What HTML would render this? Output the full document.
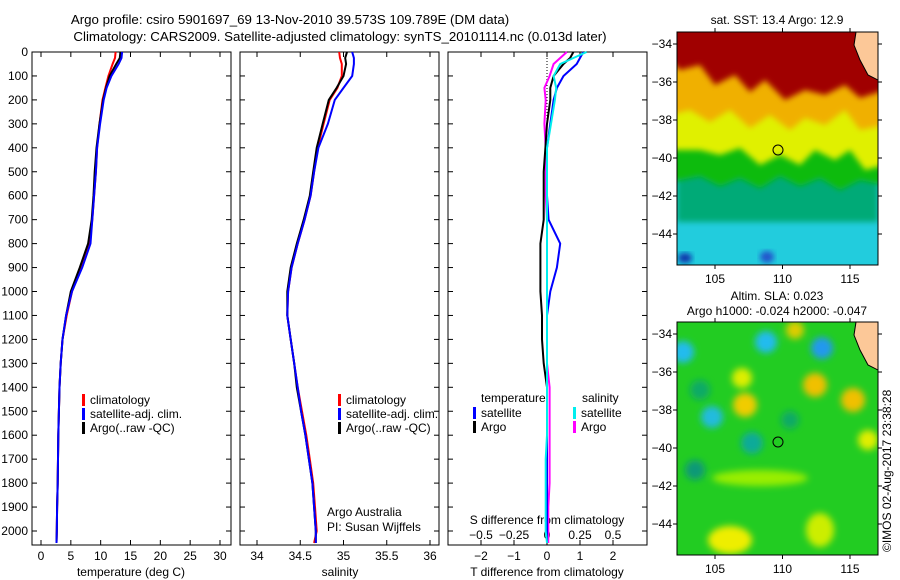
<!DOCTYPE html>
<html><head><meta charset="utf-8"><style>
body{margin:0;background:#fff}
svg{display:block;font-family:"Liberation Sans",sans-serif;font-size:12px}
</style></head><body>
<svg id="fig" width="900" height="580" viewBox="0 0 900 580">
<defs>
<filter id="bl" x="-50%" y="-50%" width="200%" height="200%"><feGaussianBlur stdDeviation="3.5"/></filter>
<filter id="bl2" x="-20%" y="-20%" width="140%" height="140%"><feGaussianBlur stdDeviation="3"/></filter>
<clipPath id="c1"><rect x="677" y="32" width="201" height="233"/></clipPath>
<clipPath id="c2"><rect x="677" y="322" width="201" height="233"/></clipPath>
</defs>
<text x="290" y="24" text-anchor="middle" font-size="13.3">Argo profile: csiro 5901697_69 13-Nov-2010 39.573S 109.789E (DM data)</text>
<text x="340" y="41" text-anchor="middle" font-size="13.3">Climatology: CARS2009. Satellite-adjusted climatology: synTS_20101114.nc (0.013d later)</text>
<g id="panels"></g>
<g id="maps">
<text x="777" y="24" text-anchor="middle">sat. SST: 13.4 Argo: 12.9</text>
<g clip-path="url(#c1)">
<rect x="677" y="32" width="201" height="233" fill="#22ccdd"/>
<rect x="677" y="32" width="201" height="190" fill="#00aa77" filter="url(#bl2)"/>
<path d="M670 25H885V185L860 180L840 190L820 178L800 186L780 176L760 188L740 178L720 186L700 176L670 182Z" fill="#11bb11" filter="url(#bl2)"/>
<path d="M670 25H885V165L865 170L850 150L835 160L815 150L800 165L780 155L760 165L740 148L720 155L700 150L670 150Z" fill="#e0f000" filter="url(#bl2)"/>
<path d="M670 25H885V125L860 130L845 110L825 125L805 118L790 130L770 115L750 128L730 110L710 122L690 110L670 115Z" fill="#f0b000" filter="url(#bl2)"/>
<path d="M670 25H885V90L860 98L845 85L825 95L805 90L785 100L765 80L750 92L735 75L715 85L700 65L680 70L670 60Z" fill="#a00000" filter="url(#bl2)"/>
<ellipse cx="685" cy="258" rx="7" ry="5" fill="#1133aa" filter="url(#bl2)"/>
<ellipse cx="767" cy="257" rx="7" ry="6" fill="#2255cc" filter="url(#bl2)"/>
<path d="M856 32H878V80L868 75L860 60L854 45Z" fill="#fcc898" stroke="#000" stroke-width="1"/>
</g>
<rect x="677" y="32" width="201" height="233" fill="none" stroke="#000"/>
<circle cx="778" cy="150" r="5" fill="none" stroke="#000"/>
<text x="777" y="300" text-anchor="middle">Altim. SLA: 0.023</text>
<text x="777" y="315" text-anchor="middle">Argo h1000: -0.024 h2000: -0.047</text>
<g clip-path="url(#c2)">
<rect x="677" y="322" width="201" height="233" fill="#22cc22"/>
<g filter="url(#bl)">
<circle cx="766" cy="342" r="11" fill="#22bbee"/><circle cx="822" cy="348" r="11" fill="#2299ee"/><circle cx="683" cy="352" r="11" fill="#22bbee"/>
<circle cx="742" cy="378" r="10" fill="#ddee00"/><circle cx="815" cy="385" r="12" fill="#f0c000"/>
<circle cx="745" cy="405" r="12" fill="#f0cc00"/><circle cx="853" cy="400" r="12" fill="#f0c000"/>
<circle cx="712" cy="417" r="11" fill="#22bbdd"/><circle cx="752" cy="443" r="11" fill="#11aa99"/>
<circle cx="868" cy="440" r="10" fill="#e0ee00"/><circle cx="695" cy="470" r="10" fill="#119977"/>
<ellipse cx="760" cy="478" rx="48" ry="8" fill="#99ee00"/><ellipse cx="730" cy="540" rx="22" ry="14" fill="#eeee00"/>
<circle cx="795" cy="330" r="9" fill="#ddcc00"/><ellipse cx="820" cy="530" rx="14" ry="17" fill="#ccee00"/>
<circle cx="700" cy="390" r="10" fill="#11aa66"/><circle cx="790" cy="420" r="9" fill="#11aa66"/>
</g>
<path d="M856 322H878V370L868 365L860 350L854 335Z" fill="#fcc898" stroke="#000" stroke-width="1"/>
</g>
<rect x="677" y="322" width="201" height="233" fill="none" stroke="#000"/>
<circle cx="778" cy="442" r="5" fill="none" stroke="#000"/>
<text transform="translate(891,552) rotate(-90)">©IMOS 02-Aug-2017 23:38:28</text>
</g>
</svg>
<script>
const depths=[0,25,50,100,150,200,300,400,500,600,700,800,900,1000,1100,1200,1300,1400,1500,1600,1700,1800,1900,2000,2050];
const tempClim=[12.5,12.4,12.0,11.3,10.8,10.3,9.8,9.4,9.2,8.9,8.6,8.1,6.7,5.2,4.3,3.6,3.3,3.1,3.0,2.9,2.85,2.8,2.7,2.65,2.6];
const tempSat=[13.6,13.5,13.0,11.8,11.0,10.5,9.9,9.4,9.2,8.9,8.6,8.3,6.9,5.2,4.2,3.6,3.3,3.1,3.0,2.9,2.85,2.8,2.7,2.65,2.6];
const tempArgo=[13.3,13.2,12.6,11.5,10.9,10.4,9.8,9.3,9.0,8.8,8.5,7.9,6.5,5.0,4.2,3.6,3.3,3.1,3.0,2.9,2.85,2.8,2.7,2.65,2.6];
const salClim=[34.95,34.96,34.98,34.98,34.93,34.84,34.77,34.70,34.66,34.62,34.55,34.47,34.40,34.36,34.35,34.39,34.43,34.47,34.52,34.57,34.61,34.65,34.67,34.69,34.66];
const salSat=[35.10,35.12,35.12,35.10,35.0,34.90,34.82,34.71,34.66,34.62,34.55,34.47,34.40,34.36,34.35,34.39,34.43,34.47,34.51,34.56,34.60,34.64,34.66,34.68,34.68];
const salArgo=[35.04,35.02,35.03,35.0,34.92,34.83,34.76,34.69,34.65,34.61,34.54,34.46,34.39,34.35,34.35,34.39,34.43,34.46,34.51,34.56,34.60,34.64,34.66,34.68,34.68];
const tDiffSat=[1.1,1.0,0.9,0.5,0.3,0.2,0.1,0,0,0,0.05,0.4,0.3,0.1,0,0,0,0,0,0,0,0,0,0,0];
const tDiffArgo=[0.8,0.7,0.5,0.2,0.1,0.1,0,-0.05,-0.1,-0.1,-0.1,-0.2,-0.2,-0.2,-0.15,-0.15,-0.1,0,0,0,0,0,0,0,0];
const sDiffSat=[0.3,0.2,0.1,0.05,0.07,0.06,0.03,0,0,0,0,0,0,0,0,0,0,0,0,0,-0.01,-0.01,-0.01,-0.01,0];
const sDiffArgo=[0.15,0.1,0.05,0.02,-0.02,-0.01,-0.02,-0.01,-0.01,-0.01,0,0,0,0,0,0,0,0.02,0.02,0.02,0.02,0.02,0.01,0.01,0.01];
const depthTicks=[0,100,200,300,400,500,600,700,800,900,1000,1100,1200,1300,1400,1500,1600,1700,1800,1900,2000];
const tempTicks=[0,5,10,15,20,25,30];
const salTicks=[34,34.5,35,35.5,36];
const tDiffTicks=[-2,-1,0,1,2];
const sDiffTicks=[-0.5,-0.25,0,0.25,0.5];
const sDiffLabels=["\u22120.5","\u22120.25","0","0.25","0.5"];
const mapLonTicks=[105,110,115];
const mapLatTicks=[-34,-36,-38,-40,-42,-44];

const NS='http://www.w3.org/2000/svg';
const g=document.getElementById('panels');
const mg=document.getElementById('maps');
function mk(tag,attrs,parent){const e=document.createElementNS(NS,tag);for(const k in attrs)e.setAttribute(k,attrs[k]);(parent||g).appendChild(e);return e;}
const Y0=52,YB=545;
function yD(d){return Y0+d*0.2395;}
function lin(d0,d1,r0,r1){return v=>r0+(v-d0)/(d1-d0)*(r1-r0);}
const xT=lin(0,30,41,220), xS=lin(34,36,257,430), xTD=lin(0,1,547,580), xSD=lin(0,0.25,547,580);
const panels=[[32,231],[240,439],[448,647]];
panels.forEach((p,i)=>{
  const r=mk('rect',{x:p[0],y:Y0,width:p[1]-p[0],height:YB-Y0,fill:'none',stroke:'#000'});
  
  
  depthTicks.forEach(d=>{
    mk('line',{x1:p[0],x2:p[0]+5,y1:yD(d),y2:yD(d),stroke:'#000'});
    mk('line',{x1:p[1],x2:p[1]-5,y1:yD(d),y2:yD(d),stroke:'#000'});
  });
});
depthTicks.forEach(d=>{
  const t=mk('text',{x:28,y:yD(d)+4,'text-anchor':'end'});t.textContent=d;
  
  
});
function xticks(ticks,fx,labels,ly,up){
  ticks.forEach((v,i)=>{
    const x=fx(v);
    mk('line',{x1:x,x2:x,y1:YB,y2:YB-5,stroke:'#000'});
    if(!up) mk('line',{x1:x,x2:x,y1:Y0,y2:Y0+5,stroke:'#000'});
    const t=mk('text',{x:x,y:ly,'text-anchor':'middle'});t.textContent=labels?labels[i]:String(v).replace('-','\u2212');
    
    
  });
}
xticks(tempTicks,xT,null,560);
xticks(salTicks,xS,null,560);
xticks(tDiffTicks,xTD,null,560);
sDiffTicks.forEach((v,i)=>{const x=xSD(v);mk('line',{x1:x,x2:x,y1:YB,y2:YB-4,stroke:'#000'});
  const t=mk('text',{x:x,y:539,'text-anchor':'middle'});t.textContent=sDiffLabels[i];
  
  });
function label(x,y,s,name,anchor){const t=mk('text',{x:x,y:y,'text-anchor':anchor||'middle'});t.textContent=s;
  return t;}
label(131,576,'temperature (deg C)','temp-axis-title');
label(340,576,'salinity','salinity-axis-title');
label(547,576,'T difference from climatology','tdiff-axis-title');
label(547,524,'S difference from climatology','sdiff-axis-title');
label(327,516,'Argo Australia','credit-line-1','start');
label(327,531,'PI: Susan Wijffels','credit-line-2','start');
mk('line',{x1:547,x2:547,y1:Y0,y2:120,stroke:'#000','stroke-dasharray':'1,2'});
function series(vals,fx,color,name){
  let d='';vals.forEach((v,i)=>{d+=(i?'L':'M')+fx(v).toFixed(1)+' '+yD(depths[i]).toFixed(1);});
  const p=mk('path',{d:d,fill:'none',stroke:color,'stroke-width':2});
  
  
}
series(tempClim,xT,'#f00','temp-climatology-line');
series(tempArgo,xT,'#000','temp-argo-line');
series(tempSat,xT,'#00f','temp-satellite-line');
series(salClim,xS,'#f00','sal-climatology-line');
series(salArgo,xS,'#000','sal-argo-line');
series(salSat,xS,'#00f','sal-satellite-line');
series(sDiffArgo,xSD,'#f0f','sdiff-argo-line');
series(tDiffArgo,xTD,'#000','tdiff-argo-line');
series(tDiffSat,xTD,'#00f','tdiff-satellite-line');
series(sDiffSat,xSD,'#0ee','sdiff-satellite-line');
function legend(x,y,color,text,name){
  mk('rect',{x:x,y:y-9,width:3,height:12,fill:color});
  const t=label(x+8,y+1,text,name,'start');
}
[[82,'#f00','climatology'],[82,'#00f','satellite-adj. clim.'],[82,'#000','Argo(..raw -QC)']].forEach((l,i)=>{
  legend(l[0],403+i*14,l[1],l[2],'temp-legend-entry');
  legend(l[0]+256,403+i*14,l[1],l[2],'sal-legend-entry');
});
label(481,402,'temperature','tdiff-legend-header','start');
label(582,402,'salinity','sdiff-legend-header','start');
legend(473,416,'#00f','satellite','tdiff-legend-satellite');
legend(473,430,'#000','Argo','tdiff-legend-argo');
legend(573,416,'#0ee','satellite','sdiff-legend-satellite');
legend(573,430,'#f0f','Argo','sdiff-legend-argo');
const lonX=lin(105,115,715,850);
[[32,265,44],[322,555,334]].forEach((m,mi)=>{
  const latY=v=>m[2]+(-34-v)*19;
  mapLonTicks.forEach(v=>{const x=lonX(v);
    mk('line',{x1:x,x2:x,y1:m[0],y2:m[0]-4,stroke:'#000'},mg);
    mk('line',{x1:x,x2:x,y1:m[1],y2:m[1]+4,stroke:'#000'},mg);
    const t=mk('text',{x:x,y:m[1]+18,'text-anchor':'middle'},mg);t.textContent=v;
    
    });
  mapLatTicks.forEach(v=>{const y=latY(v);
    mk('line',{x1:677,x2:673,y1:y,y2:y,stroke:'#000'},mg);
    mk('line',{x1:878,x2:882,y1:y,y2:y,stroke:'#000'},mg);
    const t=mk('text',{x:672,y:y+4,'text-anchor':'end'},mg);t.textContent=String(v).replace('-','\u2212');
    
    });
});
</script>
</body></html>
